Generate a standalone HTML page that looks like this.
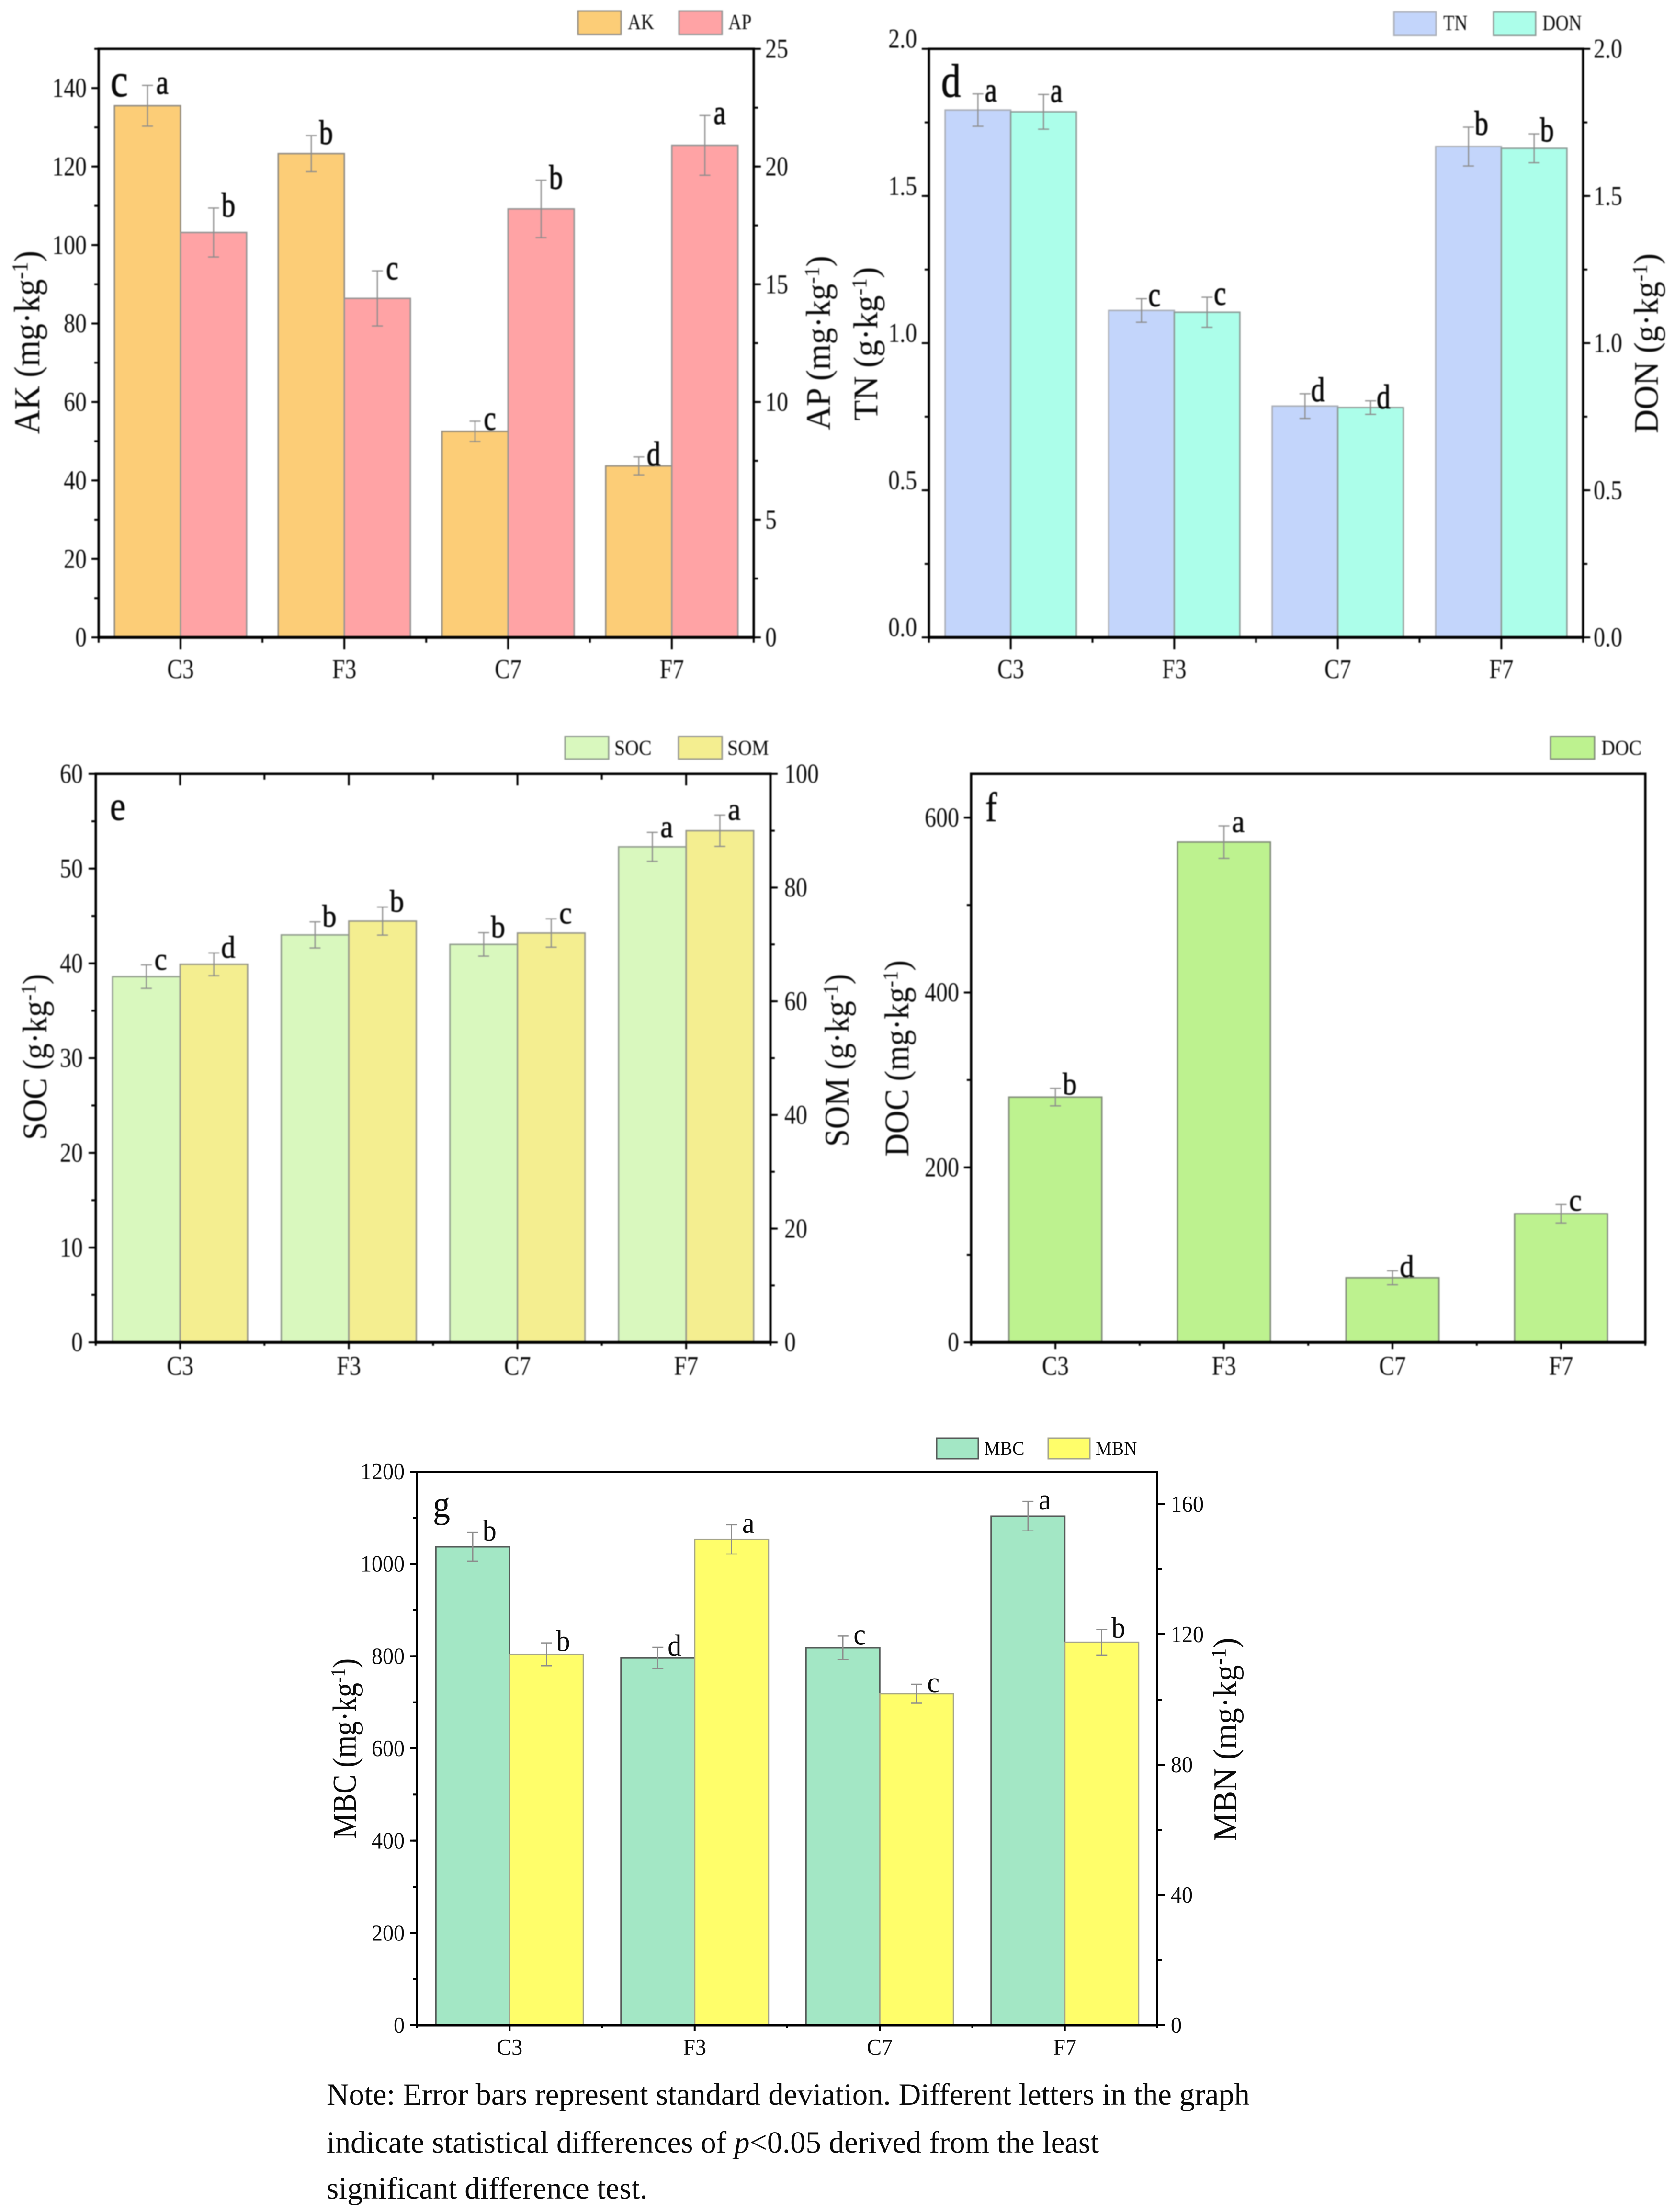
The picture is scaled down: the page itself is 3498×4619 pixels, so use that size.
<!DOCTYPE html>
<html lang="en">
<head>
<meta charset="utf-8">
<title>Soil property bar charts</title>
<style>
html,body{margin:0;padding:0;background:#fff}
svg{display:block}
text{font-family:"Liberation Serif",serif;fill:#0a0a0a}
</style>
</head>
<body>
<svg id="figure" xmlns="http://www.w3.org/2000/svg" width="3498" height="4619" viewBox="0 0 3498 4619">
  <rect x="0" y="0" width="3498" height="4619" fill="#ffffff"/>
  <g id="panels"></g>
  <g font-size="64.5">
    <text x="682" y="4395">Note: Error bars represent standard deviation. Different letters in the graph</text>
    <text x="682" y="4495">indicate statistical differences of <tspan font-style="italic">p</tspan>&lt;0.05 derived from the least</text>
    <text x="682" y="4591">significant difference test.</text>
  </g>
</svg>
<script>
// ---- data ----
const categories = ['C3', 'F3', 'C7', 'F7'];

const akValues = [135.5, 123.3, 52.5, 43.7];
const akErrors = [5.2, 4.6, 2.6, 2.3];
const akLetters = ['a', 'b', 'c', 'd'];
const apValues = [17.2, 14.4, 18.2, 20.9];
const apErrors = [1.04, 1.17, 1.22, 1.27];
const apLetters = ['b', 'c', 'b', 'a'];
const akTicks = [0, 20, 40, 60, 80, 100, 120, 140];
const apTicks = [0, 5, 10, 15, 20, 25];

const tnValues = [1.792, 1.111, 0.786, 1.668];
const tnErrors = [0.055, 0.04, 0.042, 0.066];
const tnLetters = ['a', 'c', 'd', 'b'];
const donValues = [1.786, 1.105, 0.781, 1.662];
const donErrors = [0.059, 0.051, 0.023, 0.049];
const donLetters = ['a', 'c', 'd', 'b'];
const tnTicks = ['0.0', '0.5', '1.0', '1.5', '2.0'];
const donTicks = ['0.0', '0.5', '1.0', '1.5', '2.0'];

const socValues = [38.6, 43, 42, 52.3];
const socErrors = [1.24, 1.38, 1.24, 1.53];
const socLetters = ['c', 'b', 'b', 'a'];
const somValues = [66.5, 74.1, 72, 90];
const somErrors = [2, 2.47, 2.5, 2.75];
const somLetters = ['d', 'b', 'c', 'a'];
const socTicks = [0, 10, 20, 30, 40, 50, 60];
const somTicks = [0, 20, 40, 60, 80, 100];

const docValues = [280.4, 572, 73.8, 147];
const docErrors = [10, 18.6, 8, 10.6];
const docLetters = ['b', 'a', 'd', 'c'];
const docTicks = [0, 200, 400, 600];

const mbcValues = [1037, 796, 818, 1103.5];
const mbcErrors = [31, 23, 25.5, 32];
const mbcLetters = ['b', 'd', 'c', 'a'];
const mbnValues = [113.9, 149.2, 101.8, 117.6];
const mbnErrors = [3.5, 4.5, 2.9, 3.9];
const mbnLetters = ['b', 'a', 'c', 'b'];
const mbcTicks = [0, 200, 400, 600, 800, 1000, 1200];
const mbnTicks = [0, 40, 80, 120, 160];

// ---- panel definitions ----
const panels = [
  { id: 'c', box: { l: 206, r: 1574, t: 102, b: 1331 }, barHalf: 138, blur: 1, heavy: 0.9,
    ax: 5, xMaj: 25, xMin: 11, tickSize: 48, tickSy: 1.18, catY: 1416,
    letterSize: 58, letterSy: 1.25, letterDx: 31, letterDy: 18,
    tag: { x: 249, y: 201, size: 82, sy: 1.2 },
    left: { max: 150, ticks: akTicks, major: 20, minor: 10, shift: 0, gap: 25 },
    right: { max: 25, ticks: apTicks, major: 5, minor: 2.5, gap: 24 },
    series: [
      { name: 'AK', values: akValues, errors: akErrors, letters: akLetters, fill: '#fccd77', stroke: '#8f8a80', axis: 'left', lx: 1207, tx: 1311 },
      { name: 'AP', values: apValues, errors: apErrors, letters: apLetters, fill: '#ffa3a5', stroke: '#949494', axis: 'right', lx: 1418, tx: 1521 }
    ],
    legend: { y: 23, w: 90, h: 49, base: 61, size: 38, sy: 1.2 },
    titleL: { main: 'AK (mg·kg', x: 82, y: 715, len: 383, size: 76 },
    titleR: { main: 'AP (mg·kg', x: 1733, y: 716, len: 364, size: 72 } },
  { id: 'd', box: { l: 1940, r: 3306, t: 102, b: 1331 }, barHalf: 137, blur: 1, heavy: 0.9,
    ax: 5, xMaj: 25, xMin: 11, tickSize: 48, tickSy: 1.18, catY: 1416,
    letterSize: 58, letterSy: 1.25, letterDx: 27, letterDy: 16,
    tag: { x: 1986, y: 202, size: 82, sy: 1.2 },
    left: { max: 2, ticks: tnTicks, major: 0.5, minor: 0.25, shift: -21, gap: 25 },
    right: { max: 2, ticks: donTicks, major: 0.5, minor: 0.25, gap: 22 },
    series: [
      { name: 'TN', values: tnValues, errors: tnErrors, letters: tnLetters, fill: '#c3d5fb', stroke: '#a9adb5', axis: 'left', lx: 2911, tx: 3014 },
      { name: 'DON', values: donValues, errors: donErrors, letters: donLetters, fill: '#acfeea', stroke: '#8c9a96', axis: 'right', lx: 3119, tx: 3221 }
    ],
    legend: { y: 25, w: 88, h: 49, base: 63, size: 38, sy: 1.2 },
    titleL: { main: 'TN (g·kg', x: 1832, y: 718, len: 321, size: 72 },
    titleR: { main: 'DON (g·kg', x: 3462, y: 717, len: 376, size: 72 } },
  { id: 'e', box: { l: 200, r: 1609, t: 1616, b: 2803 }, barHalf: 141, blur: 1, heavy: 0.7, topTicks: true,
    ax: 5, xMaj: 14, xMin: 7, tickSize: 48, tickSy: 1.18, catY: 2871,
    letterSize: 60, letterSy: 1.1, letterDx: 30, letterDy: 10,
    tag: { x: 246, y: 1712, size: 74, sy: 1.18 },
    left: { max: 60, ticks: socTicks, major: 10, minor: 5, shift: 0, gap: 27 },
    right: { max: 100, ticks: somTicks, major: 20, minor: 10, gap: 29 },
    series: [
      { name: 'SOC', values: socValues, errors: socErrors, letters: socLetters, fill: '#d9f8be', stroke: '#8f9a8c', axis: 'left', lx: 1180, tx: 1283 },
      { name: 'SOM', values: somValues, errors: somErrors, letters: somLetters, fill: '#f4ee90', stroke: '#94948a', axis: 'right', lx: 1417, tx: 1519 }
    ],
    legend: { y: 1538, w: 91, h: 47, base: 1576, size: 40, sy: 1.12 },
    titleL: { main: 'SOC (g·kg', x: 97, y: 2207, len: 347, size: 72 },
    titleR: { main: 'SOM (g·kg', x: 1772, y: 2214, len: 361, size: 72 } },
  { id: 'f', box: { l: 2028, r: 3436, t: 1616, b: 2803 }, barHalf: 97, blur: 1, heavy: 0.7, plainFrame: true,
    ax: 5, xMaj: 14, xMin: 7, tickSize: 48, tickSy: 1.18, catY: 2871,
    letterSize: 60, letterSy: 1.1, letterDx: 30, letterDy: 13,
    tag: { x: 2070, y: 1715, size: 74, sy: 1.18 },
    left: { max: 650, ticks: docTicks, major: 200, minor: 100, shift: 0, gap: 25 },
    series: [
      { name: 'DOC', values: docValues, errors: docErrors, letters: docLetters, fill: '#bdf28f', stroke: '#7f8a78', axis: 'left', lx: 3238, tx: 3344 }
    ],
    legend: { y: 1538, w: 92, h: 47, base: 1576, size: 40, sy: 1.12 },
    titleL: { main: 'DOC (mg·kg', x: 1897, y: 2210, len: 410, size: 72 } },
  { id: 'g', box: { l: 871, r: 2417, t: 3073, b: 4229 }, barHalf: 154, blur: 0, heavy: 0,
    ax: 4, xMaj: 13, xMin: 6, tickSize: 46, tickSy: 1.05, catY: 4291,
    letterSize: 58, letterSy: 1.08, letterDx: 35, letterDy: 17,
    tag: { x: 922, y: 3168, size: 72, sy: 1.1 },
    left: { max: 1200, ticks: mbcTicks, major: 200, minor: 100, shift: 0, gap: 26 },
    right: { max: 170, ticks: mbnTicks, major: 40, minor: 20, gap: 28 },
    series: [
      { name: 'MBC', values: mbcValues, errors: mbcErrors, letters: mbcLetters, fill: '#a3e7c5', stroke: '#555a58', axis: 'left', lx: 1956, tx: 2055 },
      { name: 'MBN', values: mbnValues, errors: mbnErrors, letters: mbnLetters, fill: '#fffe6a', stroke: '#a5a58a', axis: 'right', lx: 2189, tx: 2288 }
    ],
    legend: { y: 3003, w: 87, h: 43, base: 3038, size: 38, sy: 1.05 },
    titleL: { main: 'MBC (mg·kg', x: 743, y: 3651, len: 376, size: 70 },
    titleR: { main: 'MBN (mg·kg', x: 2582, y: 3632, len: 425, size: 70 } }
];

// ---- drawing helpers ----
const NS = 'http://www.w3.org/2000/svg';
const root = document.getElementById('panels');

function mk(tag, attrs, parent) {
  const node = document.createElementNS(NS, tag);
  for (const k in attrs) node.setAttribute(k, attrs[k]);
  parent.appendChild(node);
  return node;
}
function line(parent, x1, y1, x2, y2, width, color) {
  return mk('line', { x1: x1, y1: y1, x2: x2, y2: y2, stroke: color, 'stroke-width': width }, parent);
}
function label(parent, x, y, str, size, sy, anchor) {
  const t = mk('text', { transform: 'translate(' + x + ',' + y + ') scale(1,' + sy + ')', 'font-size': size, 'text-anchor': anchor }, parent);
  t.textContent = str;
  return t;
}
function axisTitle(parent, cfg) {
  const t = mk('text', { 'font-size': cfg.size, 'text-anchor': 'middle' }, parent);
  const a = mk('tspan', {}, t);
  a.textContent = cfg.main;
  const b = mk('tspan', { 'font-size': cfg.size * 0.62, dy: -cfg.size * 0.32 }, t);
  b.textContent = '-1';
  const c = mk('tspan', { dy: cfg.size * 0.32 }, t);
  c.textContent = ')';
  const natural = t.getComputedTextLength();
  t.setAttribute('transform', 'translate(' + cfg.x + ',' + cfg.y + ') rotate(-90) scale(' + (cfg.len / natural) + ',1)');
  return t;
}

function drawPanel(p) {
  const g = mk('g', {}, root);
  
  
  if (p.blur) g.setAttribute('style', 'filter:blur(' + p.blur + 'px)');

  const box = p.box;
  const groupW = (box.r - box.l) / categories.length;
  const xCenter = function (i) { return box.l + groupW * (i + 0.5); };
  const yFor = function (axis) {
    const span = box.b - box.t;
    return function (v) { return box.b - (v / axis.max) * span; };
  };

  // bars
  p.series.forEach(function (s, si) {
    const y = yFor(p[s.axis]);
    s.values.forEach(function (v, i) {
      const c = xCenter(i);
      const x0 = p.series.length === 1 ? c - p.barHalf : (si === 0 ? c - p.barHalf : c);
      const w = p.series.length === 1 ? p.barHalf * 2 : p.barHalf;
      const bar = mk('rect', { x: x0, y: y(v), width: w, height: box.b - y(v), fill: s.fill, stroke: s.stroke, 'stroke-width': 3 }, g);
      
      
    });
  });

  // error bars and letters
  p.series.forEach(function (s, si) {
    const y = yFor(p[s.axis]);
    s.values.forEach(function (v, i) {
      const c = xCenter(i);
      const ex = p.series.length === 1 ? c : (si === 0 ? c - p.barHalf / 2 : c + p.barHalf / 2);
      const hi = y(v + s.errors[i]);
      const lo = y(v - s.errors[i]);
      const err = mk('g', { stroke: '#8c8c8c', 'stroke-width': 2.5 }, g);
      
      
      mk('line', { x1: ex, x2: ex, y1: hi, y2: lo }, err);
      mk('line', { x1: ex - 11.5, x2: ex + 11.5, y1: hi, y2: hi }, err);
      mk('line', { x1: ex - 11.5, x2: ex + 11.5, y1: lo, y2: lo }, err);
      const letter = label(g, ex + p.letterDx, hi + p.letterDy, s.letters[i], p.letterSize, p.letterSy, 'middle');
      if (p.heavy) letter.setAttribute('style', 'stroke:#0a0a0a;stroke-width:' + p.heavy + 'px');
      
      
    });
  });

  // frame
  const frame = mk('g', {}, g);
  
  
  const half = p.ax / 2;
  line(frame, box.l - half, box.t, box.r + half, box.t, p.ax, '#000');
  line(frame, box.l - half, box.b, box.r + half, box.b, p.ax + 1, '#000');
  line(frame, box.l, box.t, box.l, box.b, p.ax, '#000');
  line(frame, box.r, box.t, box.r, box.b, p.ax, '#000');

  // x ticks
  categories.forEach(function (cat, i) {
    const c = xCenter(i);
    line(frame, c, box.b, c, box.b + p.xMaj, 4, '#000');
    if (p.topTicks) line(frame, c, box.t, c, box.t + 24, 4, '#000');
    const t = label(g, c, p.catY, cat, p.tickSize, p.tickSy, 'middle');
    
    
  });
  for (let i = 0; i <= categories.length; i++) {
    const x = box.l + groupW * i;
    line(frame, x, box.b, x, box.b + p.xMin, 4, '#000');
    if (p.topTicks && i > 0 && i < categories.length) line(frame, x, box.t, x, box.t + 12, 4, '#000');
  }

  // y axes
  ['left', 'right'].forEach(function (side) {
    const axis = p[side];
    if (!axis) return;
    const y = yFor(axis);
    const dir = side === 'left' ? -1 : 1;
    const x0 = side === 'left' ? box.l : box.r;
    for (let m = 0; m <= axis.max + 1e-9; m += axis.minor) {
      line(frame, x0, y(m), x0 + dir * 9, y(m), 4, '#000');
    }
    axis.ticks.forEach(function (tick) {
      const yy = y(parseFloat(tick));
      line(frame, x0, yy, x0 + dir * 15, yy, 4, '#000');
      const base = yy + (axis.shift || 0) + p.tickSize * p.tickSy * 0.33;
      const t = label(g, x0 + dir * axis.gap, base, String(tick), p.tickSize, p.tickSy, side === 'left' ? 'end' : 'start');
      
      
    });
  });

  // panel tag
  const tag = label(g, p.tag.x, p.tag.y, p.id, p.tag.size, p.tag.sy, 'middle');
  if (p.heavy) tag.setAttribute('style', 'stroke:#0a0a0a;stroke-width:' + p.heavy + 'px');
  
  

  // titles
  const tl = axisTitle(g, p.titleL);
  
  
  if (p.titleR) {
    const tr = axisTitle(g, p.titleR);
    
    
  }

  // legend
  p.series.forEach(function (s) {
    const entry = mk('g', {}, g);
    
    
    mk('rect', { x: s.lx, y: p.legend.y, width: p.legend.w, height: p.legend.h, fill: s.fill, stroke: s.stroke, 'stroke-width': 3 }, entry);
    label(entry, s.tx, p.legend.base, s.name, p.legend.size, p.legend.sy, 'start');
  });
}

panels.forEach(drawPanel);
</script>
</body>
</html>
